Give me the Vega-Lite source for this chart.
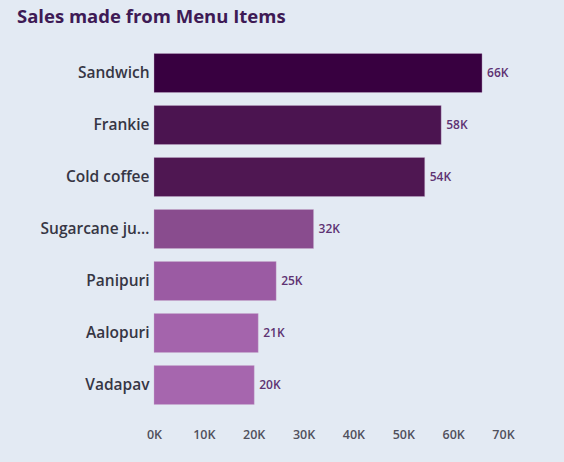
{
  "$schema": "https://vega.github.io/schema/vega-lite/v6.json",
  "width": 349,
  "height": 364,
  "autosize": {"type": "none"},
  "padding": {"left": 154, "top": 47, "right": 61, "bottom": 51},
  "background": "#E3EAF3",
  "title": {
    "text": "Sales made from Menu Items",
    "anchor": "start",
    "frame": "group",
    "dx": -137,
    "offset": 21,
    "font": "Open Sans",
    "fontSize": 18.5,
    "fontWeight": 700,
    "color": "#3E1A55"
  },
  "data": {
    "values": [
      {"item": "Sandwich", "sales": 65800},
      {"item": "Frankie", "sales": 57600},
      {"item": "Cold coffee", "sales": 54300},
      {"item": "Sugarcane juice", "sales": 32000},
      {"item": "Panipuri", "sales": 24500},
      {"item": "Aalopuri", "sales": 20900},
      {"item": "Vadapav", "sales": 20100}
    ]
  },
  "config": {
    "view": {"stroke": null},
    "axis": {"grid": false, "domain": false, "ticks": false, "labelFont": "Open Sans"}
  },
  "encoding": {
    "y": {
      "field": "item",
      "type": "nominal",
      "sort": null,
      "title": null,
      "scale": {"paddingInner": 0.25, "paddingOuter": 0.125},
      "axis": {"labelFontSize": 15.5, "labelFontWeight": 600, "labelColor": "#363644", "labelPadding": 5, "labelLimit": 110}
    },
    "x": {
      "field": "sales",
      "type": "quantitative",
      "title": null,
      "scale": {"domain": [0, 70000]},
      "axis": {"values": [0, 10000, 20000, 30000, 40000, 50000, 60000, 70000], "labelExpr": "datum.value/1000 + 'K'", "labelFontSize": 12.5, "labelFontWeight": 600, "labelColor": "#50505C", "labelPadding": 17, "labelFlush": false}
    }
  },
  "layer": [
    {
      "mark": {"type": "bar", "stroke": "#C9B0D0", "strokeWidth": 0.6, "strokeOpacity": 0.6},
      "encoding": {
        "color": {
          "field": "item",
          "type": "nominal",
          "legend": null,
          "scale": {
            "domain": ["Sandwich", "Frankie", "Cold coffee", "Sugarcane juice", "Panipuri", "Aalopuri", "Vadapav"],
            "range": ["#380040", "#4B1450", "#4F1752", "#894C8E", "#9B5BA3", "#A464AC", "#A666AE"]
          }
        }
      }
    },
    {
      "transform": [{"calculate": "format(datum.sales/1000, '.0f') + 'K'", "as": "lbl"}],
      "mark": {"type": "text", "align": "left", "dx": 5, "font": "Open Sans", "fontSize": 12, "fontWeight": 600, "color": "#5E3272"},
      "encoding": {"text": {"field": "lbl"}}
    }
  ]
}
